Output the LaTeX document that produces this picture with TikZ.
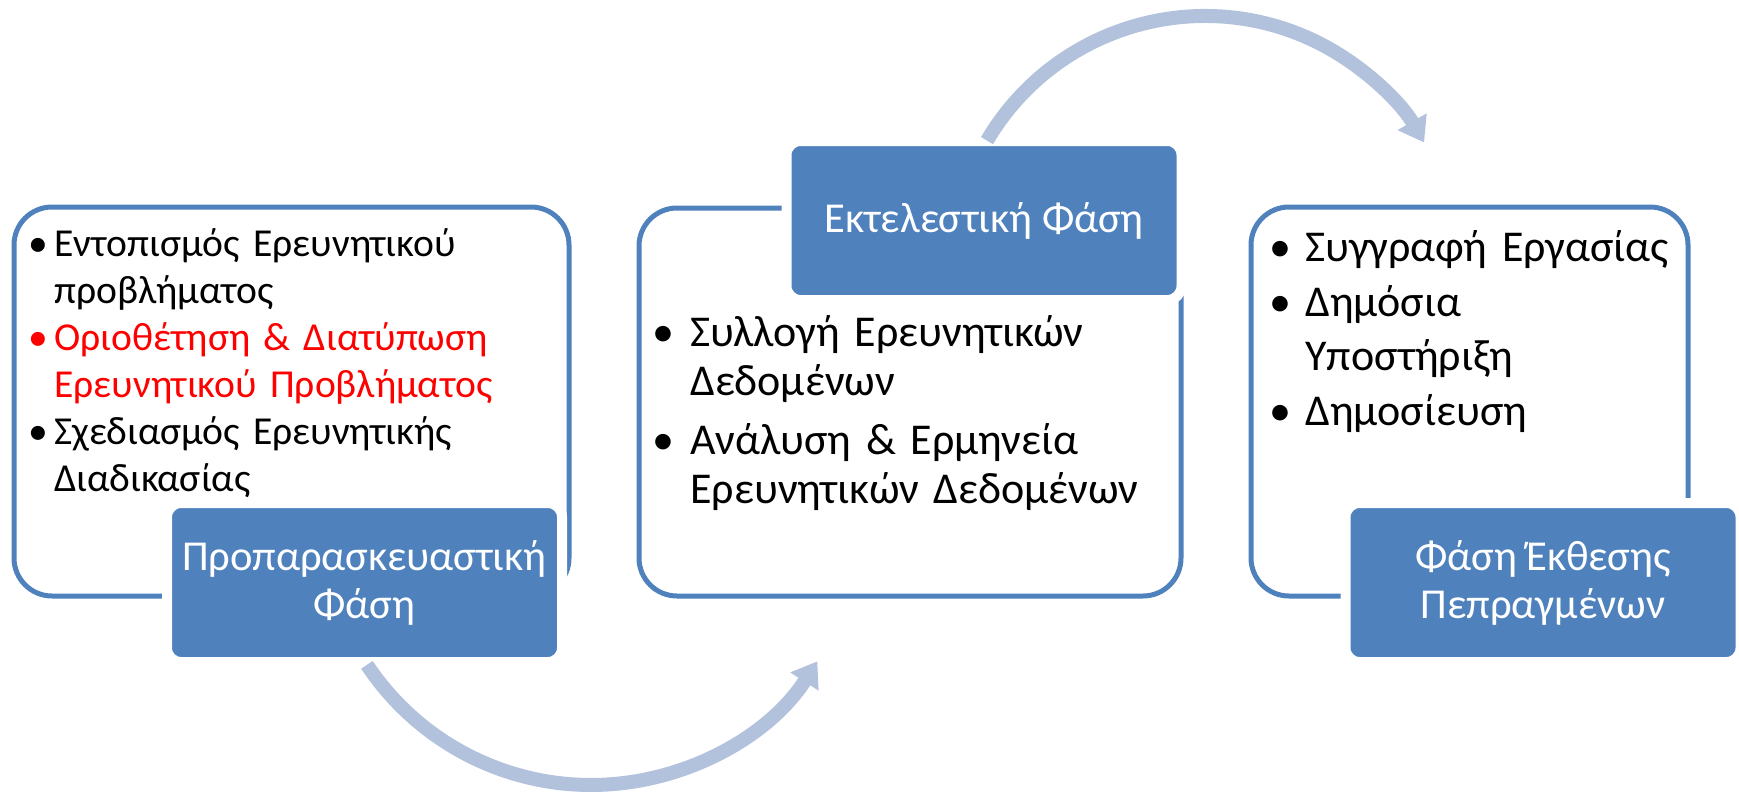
\documentclass[tikz,border=0pt]{standalone}
\usepackage{fontspec}
\setmainfont{Carlito}
\usepackage{enumitem}
\usetikzlibrary{arrows.meta, positioning}

\definecolor{phaseblue}{RGB}{79,129,189}
\definecolor{cycleblue}{RGB}{178,193,220}
\definecolor{alertred}{RGB}{255,0,0}

\begin{document}
\begin{tikzpicture}[x=0.5pt, y=-0.5pt,
    outline/.style={draw=phaseblue, line width=2.5pt, rounded corners=19pt, fill=white, inner sep=0pt},
    phase/.style={fill=phaseblue, draw=white, line width=5pt, rounded corners=7pt, text=white,
        align=center, inner sep=0pt, minimum width=197.5pt, minimum height=79.5pt,
        font=\fontsize{21.3}{24}\selectfont},
    bullets/.style={anchor=north west, inner sep=0pt, align=left},
    cyclearrow/.style={draw=cycleblue, line width=7pt, -{Triangle[width=16pt,length=12pt]}}]
    \useasboundingbox (0,0) rectangle (1739,797);

    % Frames
    \node[outline, minimum width=277.5pt, minimum height=194.5pt] (prepframe) at (291.5,401.5) {};
    \node[outline, minimum width=271pt, minimum height=194pt] (execframe) at (910,402) {};
    \node[outline, minimum width=218.5pt, minimum height=194.5pt] (reportframe) at (1469.5,401.5) {};

    % Contents
    \node[bullets, text width=265pt, font=\fontsize{19.8}{23.5}\selectfont] (preplist) at (33,209) {%
        \begin{itemize}[leftmargin=10.5pt, labelsep=3pt, itemsep=0pt, topsep=0pt, parsep=0pt, partopsep=0pt]
        \item Εντοπισμός Ερευνητικού\newline προβλήματος
        \color{alertred}\item Οριοθέτηση \& Διατύπωση\newline Ερευνητικού Προβλήματος
        \color{black}\item Σχεδιασμός Ερευνητικής\newline Διαδικασίας
        \end{itemize}};
    \node[bullets, text width=255pt, font=\fontsize{22}{24.5}\selectfont] (execlist) at (658,297) {%
        \begin{itemize}[leftmargin=16pt, labelsep=8pt, itemsep=5pt, topsep=0pt, parsep=0pt, partopsep=0pt]
        \item Συλλογή Ερευνητικών\newline Δεδομένων
        \item Ανάλυση \& Ερμηνεία\newline Ερευνητικών Δεδομένων
        \end{itemize}};
    \node[bullets, text width=205pt, font=\fontsize{22}{27.2}\selectfont] (reportlist) at (1278,207) {%
        \begin{itemize}[leftmargin=13.5pt, labelsep=7pt, itemsep=0pt, topsep=0pt, parsep=0pt, partopsep=0pt]
        \item Συγγραφή Εργασίας
        \item Δημόσια\newline Υποστήριξη
        \item Δημοσίευση
        \end{itemize}};

    % Phases
    \node[phase] (prep) at (364.5,582.5) {Προπαρασκευαστική\\Φάση};
    \node[phase] (exec) at (984,220.5) {Εκτελεστική Φάση};
    \node[phase] (report) at (1543,582.5) {Φάση Έκθεσης\\Πεπραγμένων};

    % Cycle arrows
    \coordinate (lowhub) at (591,516);
    \coordinate (highhub) at (1205,269);
    \draw[cyclearrow] (lowhub) ++(146.4:269) arc[start angle=146.4, end angle=32.7, radius=269];
    \draw[cyclearrow] (highhub) ++(210.5:253) arc[start angle=210.5, end angle=330, radius=253];
\end{tikzpicture}
\end{document}
